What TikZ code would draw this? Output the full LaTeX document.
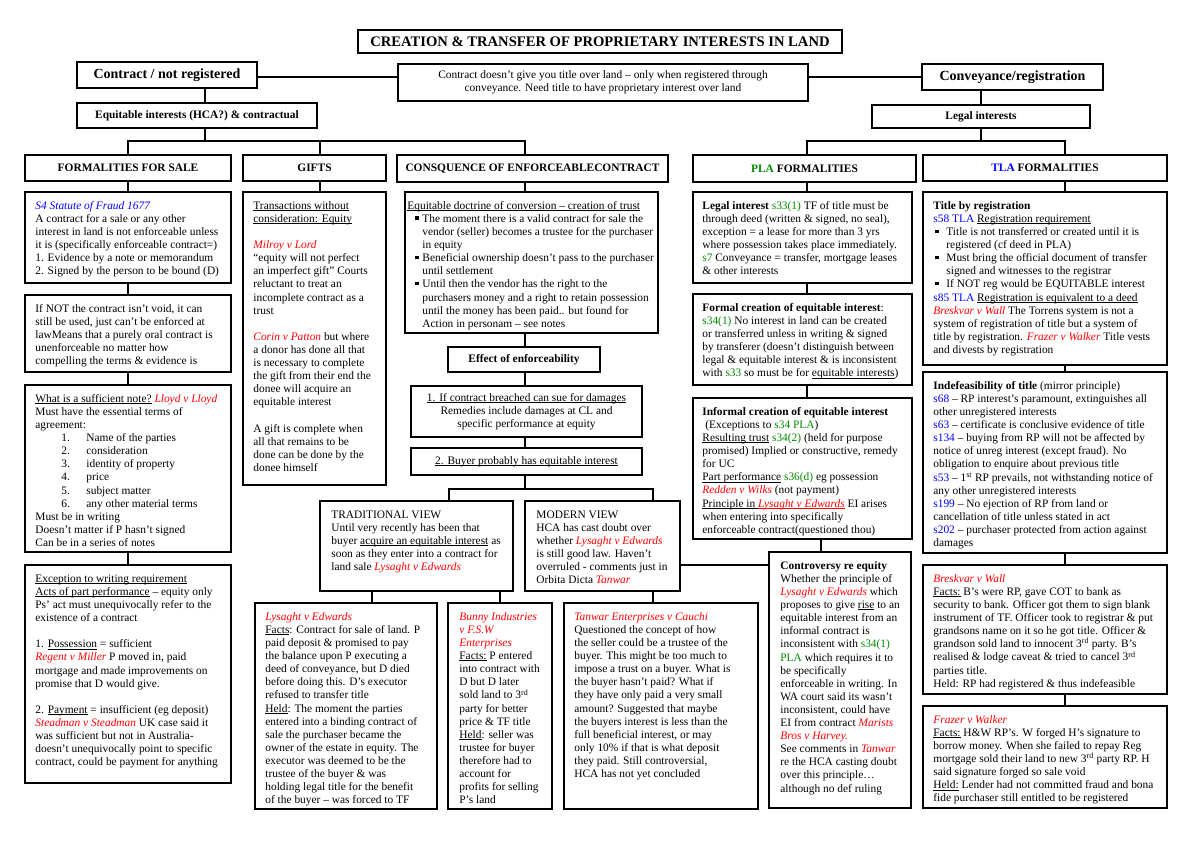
\documentclass[tikz,border=0pt]{standalone}
\usepackage{fontspec}
\setmainfont{Liberation Serif}
\usetikzlibrary{fit}
\definecolor{cred}{RGB}{255,0,0}
\definecolor{cblue}{RGB}{0,0,255}
\definecolor{cgreen}{RGB}{0,140,0}
\newcommand{\cs}[1]{\textcolor{cred}{\textit{#1}}}
\newcommand{\tl}[1]{\textcolor{cblue}{#1}}
\newcommand{\pl}[1]{\textcolor{cgreen}{#1}}
\newcommand{\bul}{\rule[2.5pt]{3.5pt}{3.5pt}}
\newcommand{\ul}[1]{\setbox0\hbox{#1}\rlap{\rule[-1.4pt]{\wd0}{0.6pt}}\box0\relax}
\newcommand{\mkbox}[5]{\node[frame, fit={(#2,#3) (#4,#5)}] (#1) {};}
\newcommand{\tx}[4]{\node[txt] (#1) at ([xshift=#3pt,yshift=-8.8pt]#2.north west) {\strut #4};}
\tikzset{
  frame/.style={draw, line width=1.6pt, inner sep=0pt},
  txt/.style={inner sep=0pt, align=left, anchor=north west, font=\fontsize{11.4}{13.1}\selectfont},
  ctxt/.style={inner sep=0pt, align=center, font=\fontsize{11.4}{13.1}\selectfont},
  hdr/.style={inner sep=0pt, align=center, font=\fontsize{11.4}{13.1}\selectfont\bfseries},
  big/.style={inner sep=0pt, align=center, font=\fontsize{14}{16}\selectfont\bfseries},
  ttl/.style={inner sep=0pt, align=center, font=\fontsize{14.6}{16}\selectfont\bfseries},
  link/.style={line width=1.6pt},
}
\begin{document}
\begin{tikzpicture}[x=1pt,y=-1pt]
\fill[white] (0,0) rectangle (1200,848);
\useasboundingbox (0,0) rectangle (1200,848);

% ---------- top ----------
\mkbox{title}{358}{30}{842}{53}
\node[ttl] (titlet) at (title) {CREATION \& TRANSFER OF PROPRIETARY INTERESTS IN LAND};
\mkbox{contract}{77}{62}{257}{88}
\node[big] (contractt) at (contract) {Contract / not registered};
\mkbox{mid}{398}{64}{808}{101}
\node[ctxt] (midt) at (mid) {Contract doesn’t give you title over land – only when registered through\\conveyance. Need title to have proprietary interest over land};
\mkbox{conv}{922}{64}{1103}{90}
\node[big] (convt) at (conv) {Conveyance/registration};
\mkbox{equit}{77}{103}{317}{128}
\node[hdr] (equitt) at (equit) {Equitable interests (HCA?) \& contractual};
\mkbox{legal}{872}{105}{1090}{128}
\node[hdr] (legalt) at (legal) {Legal interests};

% ---------- headers ----------
\mkbox{hFS}{25}{155}{231}{181}
\node[hdr] (hFSt) at (hFS) {FORMALITIES FOR SALE};
\mkbox{hGifts}{243}{155}{386}{181}
\node[hdr] (hGiftst) at (hGifts) {GIFTS};
\mkbox{hCons}{397}{155}{668}{182}
\node[hdr] (hConst) at (hCons) {CONSQUENCE OF ENFORCEABLECONTRACT};
\mkbox{hPLA}{693}{155}{916}{182}
\node[hdr] (hPLAt) at (hPLA) {\pl{PLA} FORMALITIES};
\mkbox{hTLA}{923}{155}{1167}{181}
\node[hdr] (hTLAt) at (hTLA) {\tl{TLA} FORMALITIES};

% ---------- left column ----------
\mkbox{s4}{25}{192}{231}{283}
\tx{s4t}{s4}{11}{\textcolor{cblue}{\textit{S4 Statute of Fraud 1677}}\\
A contract for a sale or any other\\
interest in land is not enforceable unless\\
it is (specifically enforceable contract=)\\
1. Evidence by a note or memorandum\\
2. Signed by the person to be bound (D)}

\mkbox{ifnot}{25}{295}{231}{372}
\tx{ifnott}{ifnot}{11}{If NOT the contract isn’t void, it can\\
still be used, just can’t be enforced at\\
lawMeans that a purely oral contract is\\
unenforceable no matter how\\
compelling the terms \& evidence is}

\mkbox{note}{25}{385}{231}{552}
\tx{notet}{note}{11}{\ul{What is a sufficient note?} \cs{Lloyd v Lloyd}\\
Must have the essential terms of\\
agreement:\\
\hspace*{26pt}\makebox[25pt][l]{1.}Name of the parties\\
\hspace*{26pt}\makebox[25pt][l]{2.}consideration\\
\hspace*{26pt}\makebox[25pt][l]{3.}identity of property\\
\hspace*{26pt}\makebox[25pt][l]{4.}price\\
\hspace*{26pt}\makebox[25pt][l]{5.}subject matter\\
\hspace*{26pt}\makebox[25pt][l]{6.}any other material terms\\
Must be in writing\\
Doesn’t matter if P hasn’t signed\\
Can be in a series of notes}

\mkbox{exc}{25}{565}{231}{783}
\tx{exct}{exc}{11}{\ul{Exception to writing requirement}\\
\ul{Acts of part performance} – equity only\\
Ps’ act must unequivocally refer to the\\
existence of a contract\\
\\
1. \ul{Possession} = sufficient\\
\cs{Regent v Miller} P moved in, paid\\
mortgage and made improvements on\\
promise that D would give.\\
\\
2. \ul{Payment} = insufficient (eg deposit)\\
\cs{Steadman v Steadman} UK case said it\\
was sufficient but not in Australia-\\
doesn’t unequivocally point to specific\\
contract, could be payment for anything}

% ---------- gifts ----------
\mkbox{gifts}{243}{192}{386}{485}
\tx{giftst}{gifts}{11}{\ul{Transactions without}\\
\ul{consideration: Equity}\\
\\
\cs{Milroy v Lord}\\
“equity will not perfect\\
an imperfect gift” Courts\\
reluctant to treat an\\
incomplete contract as a\\
trust\\
\\
\cs{Corin v Patton} but where\\
a donor has done all that\\
is necessary to complete\\
the gift from their end the\\
donee will acquire an\\
equitable interest\\
\\
A gift is complete when\\
all that remains to be\\
done can be done by the\\
donee himself}

% ---------- consequence ----------
\mkbox{cons}{405}{192}{658}{333}
\begin{scope}
\clip (405,192) rectangle (658,332);
\tx{const}{cons}{3}{\ul{Equitable doctrine of conversion – creation of trust}\\
\hspace*{8pt}\makebox[7pt][l]{\bul}The moment there is a valid contract for sale the\\
\hspace*{15pt}vendor (seller) becomes a trustee for the purchaser\\
\hspace*{15pt}in equity\\
\hspace*{8pt}\makebox[7pt][l]{\bul}Beneficial ownership doesn’t pass to the purchaser\\
\hspace*{15pt}until settlement\\
\hspace*{8pt}\makebox[7pt][l]{\bul}Until then the vendor has the right to the\\
\hspace*{15pt}purchasers money and a right to retain possession\\
\hspace*{15pt}until the money has been paid.. but found for\\
\hspace*{15pt}Action in personam – see notes}
\end{scope}

\mkbox{effect}{448}{347}{600}{372}
\node[hdr] (effectt) at (effect) {Effect of enforceability};
\mkbox{breach}{411}{386}{642}{437}
\node[ctxt] (breacht) at (breach) {\ul{1. If contract breached can sue for damages}\\Remedies include damages at CL and\\specific performance at equity};
\mkbox{buyer}{411}{448}{642}{475}
\node[ctxt] (buyert) at (buyer) {\ul{2. Buyer probably has equitable interest}};

\mkbox{trad}{320}{501}{513}{591}
\tx{tradt}{trad}{12}{TRADITIONAL VIEW\\
Until very recently has been that\\
buyer \ul{acquire an equitable interest} as\\
soon as they enter into a contract for\\
land sale \cs{Lysaght v Edwards}}

\mkbox{modern}{525}{501}{680}{591}
\tx{modernt}{modern}{12}{MODERN VIEW\\
HCA has cast doubt over\\
whether \cs{Lysaght v Edwards}\\
is still good law. Haven’t\\
overruled - comments just in\\
Orbita Dicta \cs{Tanwar}}

\mkbox{lys}{255}{603}{437}{809}
\tx{lyst}{lys}{11}{\cs{Lysaght v Edwards}\\
\ul{Facts}: Contract for sale of land. P\\
paid deposit \& promised to pay\\
the balance upon P executing a\\
deed of conveyance, but D died\\
before doing this. D’s executor\\
refused to transfer title\\
\ul{Held}: The moment the parties\\
entered into a binding contract of\\
sale the purchaser became the\\
owner of the estate in equity. The\\
executor was deemed to be the\\
trustee of the buyer \& was\\
holding legal title for the benefit\\
of the buyer – was forced to TF}

\mkbox{bunny}{448}{603}{552}{809}
\tx{bunnyt}{bunny}{12}{\cs{Bunny Industries}\\
\cs{v F.S.W}\\
\cs{Enterprises}\\
\ul{Facts:} P entered\\
into contract with\\
D but D later\\
sold land to 3\textsuperscript{rd}\\
party for better\\
price \& TF title\\
\ul{Held}: seller was\\
trustee for buyer\\
therefore had to\\
account for\\
profits for selling\\
P’s land}

\mkbox{tanwar}{564}{603}{758}{809}
\tx{tanwart}{tanwar}{11}{\cs{Tanwar Enterprises v Cauchi}\\
Questioned the concept of how\\
the seller could be a trustee of the\\
buyer. This might be too much to\\
impose a trust on a buyer. What is\\
the buyer hasn’t paid? What if\\
they have only paid a very small\\
amount? Suggested that maybe\\
the buyers interest is less than the\\
full beneficial interest, or may\\
only 10\% if that is what deposit\\
they paid. Still controversial,\\
HCA has not yet concluded}

% ---------- PLA ----------
\mkbox{legint}{693}{192}{912}{283}
\tx{leginttx}{legint}{10}{\textbf{Legal interest} \pl{s33(1)} TF of title must be\\
through deed (written \& signed, no seal),\\
exception = a lease for more than 3 yrs\\
where possession takes place immediately.\\
\pl{s7} Conveyance = transfer, mortgage leases\\
\& other interests}

\mkbox{formal}{693}{294}{912}{385}
\tx{formalt}{formal}{10}{\textbf{Formal creation of equitable interest}:\\
\pl{s34(1)} No interest in land can be created\\
or transferred unless in writing \& signed\\
by transferer (doesn’t distinguish between\\
legal \& equitable interest \& is inconsistent\\
with \pl{s33} so must be for \ul{equitable interests})}

\mkbox{informal}{693}{398}{912}{539}
\tx{informalt}{informal}{10}{\textbf{Informal creation of equitable interest}\\
\hspace*{3pt}(Exceptions to \pl{s34 PLA})\\
\ul{Resulting trust} \pl{s34(2)} (held for purpose\\
promised) Implied or constructive, remedy\\
for UC\\
\ul{Part performance} \pl{s36(d)} eg possession\\
\cs{Redden v Wilks} (not payment)\\
\ul{Principle in }\textcolor{cred}{\ul{\textit{Lysaght v Edwards}}} EI arises\\
when entering into specifically\\
enforceable contract(questioned thou)}

\mkbox{contr}{769}{552}{911}{808}
\tx{contrt}{contr}{12}{\textbf{Controversy re equity}\\
Whether the principle of\\
\cs{Lysaght v Edwards} which\\
proposes to give \ul{rise} to an\\
equitable interest from an\\
informal contract is\\
inconsistent with \pl{s34(1)}\\
\pl{PLA} which requires it to\\
be specifically\\
enforceable in writing. In\\
WA court said its wasn’t\\
inconsistent, could have\\
EI from contract \cs{Marists}\\
\cs{Bros v Harvey.}\\
See comments in \cs{Tanwar}\\
re the HCA casting doubt\\
over this principle…\\
although no def ruling}

% ---------- TLA ----------
\mkbox{treg}{923}{192}{1167}{365}
\tx{tregt}{treg}{11}{\textbf{Title by registration}\\
\tl{s58 TLA} \ul{Registration requirement}\\
\hspace*{2pt}\makebox[11pt][l]{\bul}Title is not transferred or created until it is\\
\hspace*{13pt}registered (cf deed in PLA)\\
\hspace*{2pt}\makebox[11pt][l]{\bul}Must bring the official document of transfer\\
\hspace*{13pt}signed and witnesses to the registrar\\
\hspace*{2pt}\makebox[11pt][l]{\bul}If NOT reg would be EQUITABLE interest\\
\tl{s85 TLA} \ul{Registration is equivalent to a deed}\\
\cs{Breskvar v Wall} The Torrens system is not a\\
system of registration of title but a system of\\
title by registration. \cs{Frazer v Walker} Title vests\\
and divests by registration}

\mkbox{indef}{923}{372}{1167}{553}
\tx{indeft}{indef}{11}{\textbf{Indefeasibility of title} (mirror principle)\\
\tl{s68} – RP interest’s paramount, extinguishes all\\
other unregistered interests\\
\tl{s63} – certificate is conclusive evidence of title\\
\tl{s134} – buying from RP will not be affected by\\
notice of unreg interest (except fraud). No\\
obligation to enquire about previous title\\
\tl{s53} – 1\textsuperscript{st} RP prevails, not withstanding notice of\\
any other unregistered interests\\
\tl{s199} – No ejection of RP from land or\\
cancellation of title unless stated in act\\
\tl{s202} – purchaser protected from action against\\
damages}

\mkbox{bresk}{923}{565}{1167}{694}
\tx{breskt}{bresk}{11}{\cs{Breskvar v Wall}\\
\ul{Facts:} B’s were RP, gave COT to bank as\\
security to bank. Officer got them to sign blank\\
instrument of TF. Officer took to registrar \& put\\
grandsons name on it so he got title. Officer \&\\
grandson sold land to innocent 3\textsuperscript{rd} party. B’s\\
realised \& lodge caveat \& tried to cancel 3\textsuperscript{rd}\\
parties title.\\
Held: RP had registered \& thus indefeasible}

\mkbox{frazer}{923}{706}{1167}{808}
\tx{frazert}{frazer}{11}{\cs{Frazer v Walker}\\
\ul{Facts:} H\&W RP’s. W forged H’s signature to\\
borrow money. When she failed to repay Reg\\
mortgage sold their land to new 3\textsuperscript{rd} party RP. H\\
said signature forged so sale void\\
\ul{Held:} Lender had not committed fraud and bona\\
fide purchaser still entitled to be registered}

% ---------- junction coordinates ----------
\coordinate (jl) at (205,141);
\coordinate (jr) at (981,141);
\coordinate (cL) at (128,0);
\coordinate (cG) at (320,0);
\coordinate (cC) at (525,0);
\coordinate (cP) at (807,0);
\coordinate (cT) at (1065,0);
\coordinate (jb) at (525,489);
\coordinate (jt) at (449,489);
\coordinate (jm) at (653,489);
\coordinate (c372) at (372,0);
\coordinate (c500) at (500,0);
\coordinate (c821) at (821,0);
\coordinate (h565) at (0,565);
\coordinate (h77) at (0,77);

% ---------- connectors ----------
\draw[link] (contract.east |- h77) -- (mid.west |- h77);
\draw[link] (mid.east |- h77) -- (conv.west |- h77);
\draw[link] (contract.south -| jl) -- (equit.north -| jl);
\draw[link] (equit.south -| jl) -- (jl);
\draw[link] (hFS.north -| cL) |- (jl) -- (jl -| cC) -- (hCons.north -| cC);
\draw[link] (hGifts.north -| cG) -- (jl -| cG);
\draw[link] (conv.south -| jr) -- (legal.north -| jr);
\draw[link] (legal.south -| jr) -- (jr);
\draw[link] (hPLA.north -| cP) |- (jr) -- (jr -| cT) -- (hTLA.north -| cT);

\draw[link] (hFS.south -| cL) -- (s4.north -| cL);
\draw[link] (s4.south -| cL) -- (ifnot.north -| cL);
\draw[link] (ifnot.south -| cL) -- (note.north -| cL);
\draw[link] (note.south -| cL) -- (exc.north -| cL);
\draw[link] (hGifts.south -| cG) -- (gifts.north -| cG);

\draw[link] (hCons.south -| cC) -- (cons.north -| cC);
\draw[link] (cons.south -| cC) -- (effect.north -| cC);
\draw[link] (effect.south -| cC) -- (breach.north -| cC);
\draw[link] (breach.south -| cC) -- (buyer.north -| cC);
\draw[link] (buyer.south -| cC) -- (jb);
\draw[link] (trad.north -| jt) -- (jt) -- (jm) -- (modern.north -| jm);
\draw[link] (trad.south -| c372) -- (lys.north -| c372);
\draw[link] (trad.south -| c500) -- (bunny.north -| c500);
\draw[link] (modern.south -| jm) -- (tanwar.north -| jm);
\draw[link] (modern.east |- h565) -- (contr.west |- h565);

\draw[link] (hPLA.south -| cP) -- (legint.north -| cP);
\draw[link] (legint.south -| cP) -- (formal.north -| cP);
\draw[link] (formal.south -| cP) -- (informal.north -| cP);
\draw[link] (informal.south -| c821) -- (contr.north -| c821);

\draw[link] (hTLA.south -| cT) -- (treg.north -| cT);
\draw[link] (treg.south -| cT) -- (indef.north -| cT);
\draw[link] (indef.south -| cT) -- (bresk.north -| cT);
\draw[link] (bresk.south -| cT) -- (frazer.north -| cT);
\end{tikzpicture}
\end{document}
